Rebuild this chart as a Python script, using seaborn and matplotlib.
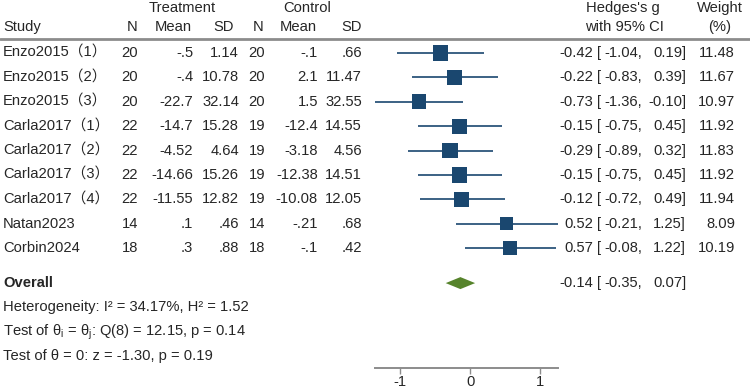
import matplotlib
matplotlib.use("Agg")
import matplotlib.pyplot as plt
import matplotlib.transforms as mtransforms
import seaborn as sns
import numpy as np
import pandas as pd

# Study data
studies = ["Enzo2015（1）", "Enzo2015（2）", "Enzo2015（3）", "Carla2017（1）",
           "Carla2017（2）", "Carla2017（3）", "Carla2017（4）", "Natan2023", "Corbin2024"]
t_n = ["20", "20", "20", "22", "22", "22", "22", "14", "18"]
t_mean = ["-.5", "-.4", "-22.7", "-14.7", "-4.52", "-14.66", "-11.55", ".1", ".3"]
t_sd = ["1.14", "10.78", "32.14", "15.28", "4.64", "15.26", "12.82", ".46", ".88"]
c_n = ["20", "20", "20", "19", "19", "19", "19", "14", "18"]
c_mean = ["-.1", "2.1", "1.5", "-12.4", "-3.18", "-12.38", "-10.08", "-.21", "-.1"]
c_sd = [".66", "11.47", "32.55", "14.55", "4.56", "14.51", "12.05", ".68", ".42"]
g = [-0.42, -0.22, -0.73, -0.15, -0.29, -0.15, -0.12, 0.52, 0.57]
ci_lo = [-1.04, -0.83, -1.36, -0.75, -0.89, -0.75, -0.72, -0.21, -0.08]
ci_hi = [0.19, 0.39, -0.10, 0.45, 0.32, 0.45, 0.49, 1.25, 1.22]
weight = [11.48, 11.67, 10.97, 11.92, 11.83, 11.92, 11.94, 8.09, 10.19]

overall_g = -0.14
overall_lo = -0.35
overall_hi = 0.07

stats_lines = [
    "Heterogeneity: I² = 34.17%, H² = 1.52",
    r"Test of θ$_\mathregular{i}$ = θ$_\mathregular{j}$: Q(8) = 12.15, p = 0.14",
    "Test of θ = 0: z = -1.30, p = 0.19",
]

navy = "#1a476f"
green = "#56832b"
fam = ["Liberation Sans", "Noto Sans CJK SC", "DejaVu Sans"]

sns.set_style("white")
plt.rcParams["font.family"] = fam
plt.rcParams["mathtext.fontset"] = "custom"
plt.rcParams["mathtext.rm"] = "Liberation Sans"
plt.rcParams["mathtext.it"] = "Liberation Sans"
plt.rcParams["font.size"] = 10.6

W, H = 750, 389
fig = plt.figure(figsize=(W / 100, H / 100), dpi=100)
row_px, row0_px, axis_px = 24.4, 53, 368
ax = fig.add_axes([375 / W, (H - axis_px) / H, (557.7 - 375) / W, axis_px / H])
ax.set_xlim(-1.36, 1.25)
ax.set_ylim((axis_px - row0_px) / row_px, -row0_px / row_px)

df = pd.DataFrame({"study": studies, "g": g, "lo": ci_lo, "hi": ci_hi,
                   "weight": weight, "row": np.arange(len(studies))})

# CIs and weighted squares
ax.hlines(df["row"], df["lo"], df["hi"], color=navy, lw=1.2, zorder=2)
k = 10.2
sns.scatterplot(data=df, x="g", y="row", size="weight", marker="s",
                sizes=(0, k * max(weight)), size_norm=(0, max(weight)),
                color=navy, linewidth=0, legend=False, ax=ax, zorder=3)

# Overall diamond
orow = len(studies) + 0.43
dh = 0.246
ax.fill([overall_lo, overall_g, overall_hi, overall_g],
        [orow, orow - dh, orow, orow + dh], color=green, lw=0, zorder=3)

# Axis styling
for s in ["top", "left", "right"]:
    ax.spines[s].set_visible(False)
ax.spines["bottom"].set_color("#8c8c8c")
ax.spines["bottom"].set_linewidth(1.4)
ax.set_xticks([-1, 0, 1])
ax.set_xticklabels(["-1", "0", "1"])
ax.set_yticks([])
ax.tick_params(axis="x", direction="out", length=4, width=1, color="#8c8c8c",
               labelsize=10.6, pad=1, bottom=True)
ax.set_xlabel("")
ax.set_ylabel("")

tr = mtransforms.blended_transform_factory(fig.transFigure, ax.transData)


def put(xpx, row, s, ha="left", **kw):
    ax.text(xpx / W, row, s, ha=ha, va="center", transform=tr, clip_on=False, **kw)


# Header
h1, h2 = -1.85, -1.07
put(182, h1, "Treatment", ha="center")
put(307, h1, "Control", ha="center")
put(623, h1, "Hedges's g", ha="center")
put(720, h1, "Weight", ha="center")
put(3, h2, "Study")
put(138, h2, "N", ha="right")
put(192, h2, "Mean", ha="right")
put(234, h2, "SD", ha="right")
put(264, h2, "N", ha="right")
put(317, h2, "Mean", ha="right")
put(362, h2, "SD", ha="right")
put(624, h2, "with 95% CI", ha="center")
put(720, h2, "(%)", ha="center")

ax.plot([0, 1], [-0.57, -0.57], transform=tr, color="#8c8c8c", lw=2, clip_on=False)

# Rows
for i in range(len(studies)):
    put(3, i, studies[i])
    put(138, i, t_n[i], ha="right")
    put(193, i, t_mean[i], ha="right")
    put(239, i, t_sd[i], ha="right")
    put(265, i, c_n[i], ha="right")
    put(318, i, c_mean[i], ha="right")
    put(362, i, c_sd[i], ha="right")
    put(593, i, f"{g[i]:.2f}", ha="right")
    put(597, i, "[")
    put(642, i, f"{ci_lo[i]:.2f},", ha="right")
    put(686, i, f"{ci_hi[i]:.2f}]", ha="right")
    put(735, i, f"{weight[i]:.2f}", ha="right")

put(3, orow, "Overall", fontweight="bold")
put(593, orow, f"{overall_g:.2f}", ha="right")
put(597, orow, "[")
put(642, orow, f"{overall_lo:.2f},", ha="right")
put(686, orow, f"{overall_hi:.2f}]", ha="right")

for j, line in enumerate(stats_lines):
    put(3, orow + 1 + j, line)

fig.savefig("out.png", dpi=100)
